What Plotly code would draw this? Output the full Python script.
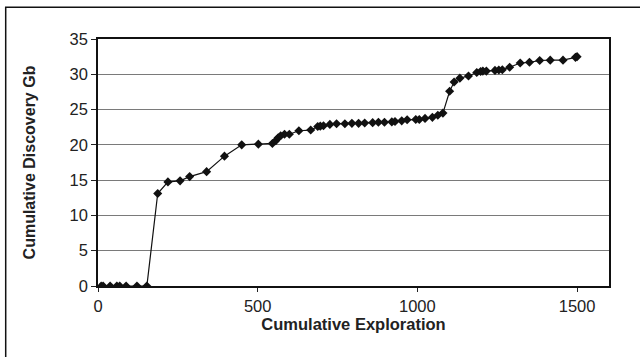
import plotly.graph_objects as go

# Cumulative exploration effort vs. cumulative discovery (Gb)
exploration = [10, 16, 38, 59, 68, 88, 122, 153,
               187, 219, 257, 287, 340, 396, 450, 502, 546, 557, 564, 572,
               584, 599, 629, 666, 688, 696, 706, 726, 747, 773, 795, 816,
               835, 860, 878, 897, 920, 930, 951, 968, 995, 1006, 1024, 1047,
               1064, 1080, 1101, 1115, 1133, 1160, 1186, 1198, 1205, 1216,
               1243, 1255, 1266, 1289, 1322, 1351, 1383, 1416, 1456, 1495, 1500]
discovery = [0, 0, 0, 0, 0, 0, 0, 0,
             13.1, 14.75, 14.9, 15.5, 16.2, 18.4, 20.0, 20.1, 20.2, 20.6, 21.0, 21.3,
             21.5, 21.5, 22.0, 22.1, 22.6, 22.65, 22.7, 22.9, 23.0, 23.0, 23.05, 23.05,
             23.1, 23.15, 23.2, 23.2, 23.25, 23.3, 23.4, 23.55, 23.6, 23.6, 23.75, 23.9,
             24.2, 24.5, 27.6, 28.9, 29.45, 29.75, 30.25, 30.4, 30.45, 30.45,
             30.55, 30.6, 30.65, 31.0, 31.6, 31.7, 31.95, 32.0, 32.0, 32.4, 32.5]

x_ticks = [0, 500, 1000, 1500]
y_ticks = [0, 5, 10, 15, 20, 25, 30, 35]

fig = go.Figure()
fig.add_trace(go.Scatter(
    x=exploration, y=discovery, mode="lines+markers",
    line=dict(color="#111111", width=1.2),
    marker=dict(symbol="diamond", size=7, color="#111111"),
    showlegend=False,
))

font_family = "Liberation Sans, Arial, sans-serif"

fig.update_layout(
    width=640, height=357,
    margin=dict(l=98, r=31, t=39, b=71),
    paper_bgcolor="white", plot_bgcolor="white",
    font=dict(family=font_family, size=16.5, color="#222222"),
    xaxis=dict(
        range=[0, 1600], tickvals=x_ticks, ticks="outside", ticklen=4,
        tickcolor="#222222", showgrid=False, zeroline=False,
        showline=True, linecolor="#111111", linewidth=1.5, mirror=True,
        title=dict(text="<b>Cumulative Exploration</b>", font=dict(size=16.5), standoff=3),
    ),
    yaxis=dict(
        range=[0, 35], tickvals=y_ticks, ticks="outside", ticklen=5,
        tickcolor="#222222", showgrid=True, gridcolor="#7a7a7a", gridwidth=1,
        zeroline=False, showline=True, linecolor="#111111", linewidth=1.5, mirror=True,
        title=dict(text="<b>Cumulative Discovery Gb</b>", font=dict(size=16), standoff=30),
    ),
)

# outer frame around the whole chart
fig.add_shape(type="rect", xref="paper", yref="paper",
              x0=(5.7 - 98) / 511, x1=(645 - 98) / 511,
              y0=(286 - 362) / 247, y1=(286 - 7.3) / 247,
              line=dict(color="#111111", width=1.5), layer="above")

fig.write_html("out.html")
